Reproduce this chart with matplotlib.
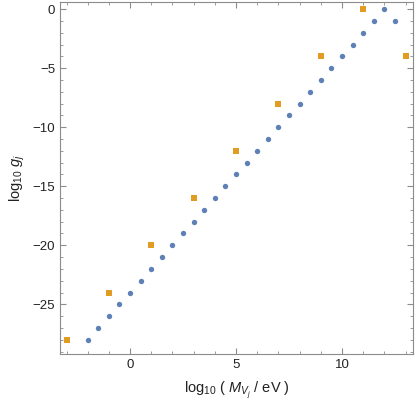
import numpy as np
import matplotlib.pyplot as plt
from matplotlib.ticker import MultipleLocator

plt.rcParams['font.family'] = ['Liberation Sans', 'DejaVu Sans']
plt.rcParams['mathtext.fontset'] = 'custom'
plt.rcParams['mathtext.rm'] = 'Liberation Sans'
plt.rcParams['mathtext.it'] = 'Liberation Sans:italic'

# blue series: log10(M) vs log10(g)
blue_x = [-2, -1.5, -1, -0.5, 0, 0.5, 1, 1.5, 2, 2.5, 3, 3.5, 4, 4.5, 5, 5.5,
          6, 6.5, 7, 7.5, 8, 8.5, 9, 9.5, 10, 10.5, 11, 11.5, 12, 12.5]
blue_y = [-28, -27, -26, -25, -24, -23, -22, -21, -20, -19, -18, -17, -16, -15,
          -14, -13, -12, -11, -10, -9, -8, -7, -6, -5, -4, -3, -2, -1, 0, -1]

# orange series
orange_x = [-3, -1, 1, 3, 5, 7, 9, 11, 13]
orange_y = [-28, -24, -20, -16, -12, -8, -4, 0, -4]

BLUE = '#5E81B5'
ORANGE = '#E19C24'
FRAME = '#8c8c8c'
TEXT = '#222222'

fig = plt.figure(figsize=(4.15, 4.12), dpi=100)
ax = fig.add_axes([0.145, 0.141, 0.850, 0.854])

ax.scatter(blue_x, blue_y, s=15, color=BLUE, marker='o', linewidths=0, zorder=3)
ax.scatter(orange_x, orange_y, s=24, color=ORANGE, marker='s', linewidths=0, zorder=3)

ax.set_xlim(-3.3, 13.35)
ax.set_ylim(-29.2, 0.6)

ax.xaxis.set_major_locator(MultipleLocator(5))
ax.xaxis.set_minor_locator(MultipleLocator(1))
ax.yaxis.set_major_locator(MultipleLocator(5))
ax.yaxis.set_minor_locator(MultipleLocator(1))

ax.tick_params(which='both', direction='in', top=True, right=True,
               color=FRAME, labelsize=9.5, labelcolor=TEXT)
ax.tick_params(which='major', length=4, width=0.8)
ax.tick_params(which='minor', length=2, width=0.6)
for sp in ax.spines.values():
    sp.set_color(FRAME)
    sp.set_linewidth(0.8)

ax.set_xlabel(r'$\mathregular{log_{10}}$ ( $M_{V_j}$ / eV )', fontsize=10.5,
              color=TEXT, labelpad=6)
ax.set_ylabel(r'$\mathregular{log_{10}}$ $g_j$', fontsize=10.5, color=TEXT)

fig.savefig('out.png', dpi=100)
